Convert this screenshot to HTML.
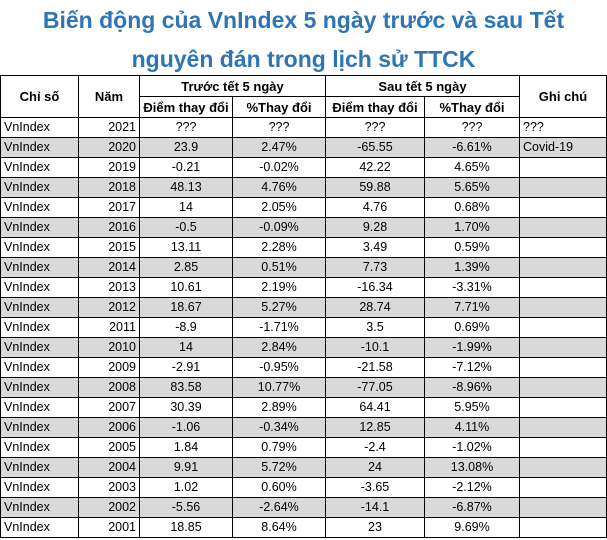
<!DOCTYPE html>
<html><head><meta charset="utf-8"><style>
body{margin:0;width:607px;height:540px;background:#fff;font-family:"Liberation Sans",sans-serif;overflow:hidden;position:relative}
.t{position:absolute;left:0;width:607px;text-align:center;color:#2e75b6;font-weight:bold;font-size:23px;line-height:30px}
table{position:absolute;left:0;top:75px;border-collapse:collapse;table-layout:fixed;font-size:12.5px}
td{border:1px solid #000;height:19px;padding:0 3px;white-space:nowrap;overflow:hidden;line-height:19px}
tr.h td{font-weight:bold;text-align:center;height:20px;font-size:13px}
tr.g td{background:#d9d9d9}
td.c{text-align:center}td.r{text-align:right}
</style></head><body>
<div class="t" style="top:5px">Biến động của VnIndex 5 ngày trước và sau Tết</div>
<div class="t" style="top:44px">nguyên đán trong lịch sử TTCK</div>
<table>
<colgroup><col style="width:78px"><col style="width:61px"><col style="width:93px"><col style="width:93px"><col style="width:99px"><col style="width:95px"><col style="width:87px"></colgroup>
<tr class="h"><td rowspan="2">Chỉ số</td><td rowspan="2">Năm</td><td colspan="2">Trước tết 5 ngày</td><td colspan="2">Sau tết 5 ngày</td><td rowspan="2">Ghi chú</td></tr>
<tr class="h"><td>Điểm thay đổi</td><td>%Thay đổi</td><td>Điểm thay đổi</td><td>%Thay đổi</td></tr>
<tr><td>VnIndex</td><td class="r">2021</td><td class="c">???</td><td class="c">???</td><td class="c">???</td><td class="c">???</td><td>???</td></tr>
<tr class="g"><td>VnIndex</td><td class="r">2020</td><td class="c">23.9</td><td class="c">2.47%</td><td class="c">-65.55</td><td class="c">-6.61%</td><td>Covid-19</td></tr>
<tr><td>VnIndex</td><td class="r">2019</td><td class="c">-0.21</td><td class="c">-0.02%</td><td class="c">42.22</td><td class="c">4.65%</td><td></td></tr>
<tr class="g"><td>VnIndex</td><td class="r">2018</td><td class="c">48.13</td><td class="c">4.76%</td><td class="c">59.88</td><td class="c">5.65%</td><td></td></tr>
<tr><td>VnIndex</td><td class="r">2017</td><td class="c">14</td><td class="c">2.05%</td><td class="c">4.76</td><td class="c">0.68%</td><td></td></tr>
<tr class="g"><td>VnIndex</td><td class="r">2016</td><td class="c">-0.5</td><td class="c">-0.09%</td><td class="c">9.28</td><td class="c">1.70%</td><td></td></tr>
<tr><td>VnIndex</td><td class="r">2015</td><td class="c">13.11</td><td class="c">2.28%</td><td class="c">3.49</td><td class="c">0.59%</td><td></td></tr>
<tr class="g"><td>VnIndex</td><td class="r">2014</td><td class="c">2.85</td><td class="c">0.51%</td><td class="c">7.73</td><td class="c">1.39%</td><td></td></tr>
<tr><td>VnIndex</td><td class="r">2013</td><td class="c">10.61</td><td class="c">2.19%</td><td class="c">-16.34</td><td class="c">-3.31%</td><td></td></tr>
<tr class="g"><td>VnIndex</td><td class="r">2012</td><td class="c">18.67</td><td class="c">5.27%</td><td class="c">28.74</td><td class="c">7.71%</td><td></td></tr>
<tr><td>VnIndex</td><td class="r">2011</td><td class="c">-8.9</td><td class="c">-1.71%</td><td class="c">3.5</td><td class="c">0.69%</td><td></td></tr>
<tr class="g"><td>VnIndex</td><td class="r">2010</td><td class="c">14</td><td class="c">2.84%</td><td class="c">-10.1</td><td class="c">-1.99%</td><td></td></tr>
<tr><td>VnIndex</td><td class="r">2009</td><td class="c">-2.91</td><td class="c">-0.95%</td><td class="c">-21.58</td><td class="c">-7.12%</td><td></td></tr>
<tr class="g"><td>VnIndex</td><td class="r">2008</td><td class="c">83.58</td><td class="c">10.77%</td><td class="c">-77.05</td><td class="c">-8.96%</td><td></td></tr>
<tr><td>VnIndex</td><td class="r">2007</td><td class="c">30.39</td><td class="c">2.89%</td><td class="c">64.41</td><td class="c">5.95%</td><td></td></tr>
<tr class="g"><td>VnIndex</td><td class="r">2006</td><td class="c">-1.06</td><td class="c">-0.34%</td><td class="c">12.85</td><td class="c">4.11%</td><td></td></tr>
<tr><td>VnIndex</td><td class="r">2005</td><td class="c">1.84</td><td class="c">0.79%</td><td class="c">-2.4</td><td class="c">-1.02%</td><td></td></tr>
<tr class="g"><td>VnIndex</td><td class="r">2004</td><td class="c">9.91</td><td class="c">5.72%</td><td class="c">24</td><td class="c">13.08%</td><td></td></tr>
<tr><td>VnIndex</td><td class="r">2003</td><td class="c">1.02</td><td class="c">0.60%</td><td class="c">-3.65</td><td class="c">-2.12%</td><td></td></tr>
<tr class="g"><td>VnIndex</td><td class="r">2002</td><td class="c">-5.56</td><td class="c">-2.64%</td><td class="c">-14.1</td><td class="c">-6.87%</td><td></td></tr>
<tr><td>VnIndex</td><td class="r">2001</td><td class="c">18.85</td><td class="c">8.64%</td><td class="c">23</td><td class="c">9.69%</td><td></td></tr>
</table>
</body></html>
